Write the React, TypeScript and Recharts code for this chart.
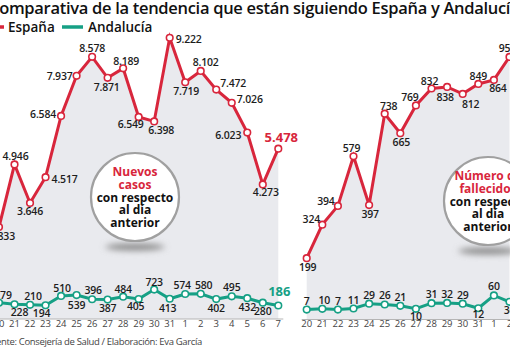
import React from 'react';
import { ComposedChart, Line, Area, XAxis, YAxis, LabelList } from 'recharts';

const days = ['20', '21', '22', '23', '24', '25', '26', '27', '28', '29', '30', '31', '1', '2', '3', '4', '5', '6', '7'];

const spainCases = [2833, 4946, 3646, 4517, 6584, 7937, 8578, 7871, 8189, 6549, 6398, 9222, 7719, 8102, 7472, 7026, 6023, 4273, 5478];
const andaluciaCases = [279, 228, 210, 194, 510, 539, 396, 387, 484, 405, 723, 413, 574, 580, 402, 495, 432, 280, 186];

const spainDeaths = [199, 324, 394, 579, 397, 738, 665, 769, 832, 838, 812, 849, 864, 950, null, null, null, null, null];
const andaluciaDeaths = [7, 10, 7, 11, 29, 26, 21, 10, 31, 32, 29, 12, 60, 36, null, null, null, null, null];

// label offsets (dx, dy) from each point
const spainCasesPos = [[3, 9], [1, -8], [0, 8.5], [19, 2], [-18, -2], [-17, 0], [0, -8.5], [-1, 9], [3, -7.5], [-8, 7], [7, 9], [19, 1.5], [1, 9], [5, -9], [17, -6.5], [18, -3.5], [-19, 2.5], [3, 8], [3, -12]];
const andaluciaCasesPos = [[4, -8], [5, 8], [3, -9], [-4, 8], [1, -8], [0, 10], [1, -9], [0, 8], [0, -8], [-3, 7], [0, -8], [-2, 9], [-3, -9], [3, -9], [0, 8.5], [0, -9.5], [0, 8.5], [0, 8], [1, -14]];
const spainDeathsPos = [[1, 9], [-11, -6], [-12, -5], [-2, -8], [1, 9], [4, -8], [1, 9], [-6, -8], [-2, -8], [-2, 10], [8, 10], [0, -8], [4, 8], [-2, -9]];
const andaluciaDeathsPos = [[0, -9], [2, -9], [0, -9], [0, -9], [0, -9], [0, -9], [0, -9], [0, 7], [0, -9], [0, -9], [0, -9], [0, 6], [0, -9], [0, 8]];

const RED = '#d8263c';
const TEAL = '#16a085';
const FONT = '"Open Sans", sans-serif';

const casesData = days.map((d, i) => ({ day: d, spain: spainCases[i], andalucia: andaluciaCases[i] }));
const deathsData = days.map((d, i) => ({ day: d, spain: spainDeaths[i], andalucia: andaluciaDeaths[i] }));

const fmt = (v: number) => String(v).replace(/\B(?=(\d{3})+(?!\d))/g, '.');

const makeLabel = (pos: number[][], color: string, big: number) => (props: any) => {
    const { x, y, value, index } = props;
    if (value == null || x == null || y == null) return null;
    const [dx, dy] = pos[index] || [0, -9];
    const isBig = index === big;
    return (
        <text
            x={x + dx}
            y={y + dy}
            textAnchor="middle"
            dominantBaseline="central"
            fontFamily={FONT}
            fontSize={isBig ? 13 : 10.5}
            fontWeight={isBig ? 700 : 600}
            letterSpacing={isBig ? 0 : -0.2}
            fill={isBig ? color : '#1d1d1d'}
        >
            {fmt(value)}
        </text>
    );
};

const dotStyle = (color: string) => ({ r: 3.3, fill: '#fff', stroke: color, strokeWidth: 1.6 });

interface PanelProps {
    data: any[];
    domain: [number, number];
    spainPos: number[][];
    andaluciaPos: number[][];
    bigIndex: number;
    width: number;
    margin: { top: number; right: number; bottom: number; left: number };
}

function Panel({ data, domain, spainPos, andaluciaPos, bigIndex, width, margin }: PanelProps) {
    return (
        <ComposedChart width={width} height={348} data={data} margin={margin}>
            <XAxis
                dataKey="day"
                scale="point"
                padding={{ left: 5, right: 5 }}
                interval={0}
                tickLine={false}
                tickSize={0}
                tickMargin={1}
                height={20}
                stroke="#b5b5b5"
                tick={{ fill: '#444', fontSize: 9.5, fontFamily: FONT }}
            />
            <YAxis hide domain={domain} type="number" />
            <Area
                dataKey="spain"
                type="linear"
                stroke="none"
                fill="#e9eaee"
                fillOpacity={1}
                baseValue="dataMin"
                isAnimationActive={false}
                dot={false}
                activeDot={false}
            />
            <Line
                dataKey="andalucia"
                type="linear"
                stroke={TEAL}
                strokeWidth={3}
                dot={dotStyle(TEAL)}
                isAnimationActive={false}
            >
                <LabelList dataKey="andalucia" content={makeLabel(andaluciaPos, TEAL, bigIndex)} />
            </Line>
            <Line
                dataKey="spain"
                type="linear"
                stroke={RED}
                strokeWidth={3}
                dot={dotStyle(RED)}
                isAnimationActive={false}
            >
                <LabelList dataKey="spain" content={makeLabel(spainPos, RED, bigIndex)} />
            </Line>
        </ComposedChart>
    );
}

function Bubble({ cx, cy, red, black }: { cx: number; cy: number; red: string[]; black: string[] }) {
    const lines = [...red, ...black];
    const start = cy - ((lines.length - 1) * 12.6) / 2;
    return (
        <g>
            <ellipse cx={cx} cy={cy + 50} rx={30} ry={3.5} fill="#8a8a8a" filter="url(#blur)" />
            <circle cx={cx} cy={cy} r={44} fill="#fff" stroke="#a0a0a0" strokeWidth={2.2} />
            {lines.map((t, i) => (
                <text
                    key={i}
                    x={cx}
                    y={start + i * 12.6}
                    textAnchor="middle"
                    dominantBaseline="central"
                    fontFamily={FONT}
                    fontSize={12}
                    fontWeight={700}
                    fill={i < red.length ? RED : '#111'}
                >
                    {t}
                </text>
            ))}
        </g>
    );
}

export default function App() {
    return (
        <div style={{ position: 'fixed', left: 0, top: 0, width: 510, height: 348, overflow: 'hidden', background: '#fff', fontFamily: FONT }}>
            <div style={{ position: 'absolute', left: 0, top: 0 }}>
                <div style={{ position: 'absolute', left: -40, top: 0 }}>
                    <Panel
                        data={casesData}
                        domain={[-270, 10000]}
                        spainPos={spainCasesPos}
                        andaluciaPos={andaluciaCasesPos}
                        bigIndex={18}
                        width={340}
                        margin={{ top: 14.7, right: 16.7, bottom: 9, left: 34 }}
                    />
                </div>
                <div style={{ position: 'absolute', left: 290, top: 0 }}>
                    <Panel
                        data={deathsData}
                        domain={[-30, 1000]}
                        spainPos={spainDeathsPos}
                        andaluciaPos={andaluciaDeathsPos}
                        bigIndex={18}
                        width={330}
                        margin={{ top: 43.5, right: 27.5, bottom: 8.5, left: 11.7 }}
                    />
                </div>
            </div>
            <svg width={510} height={348} style={{ position: 'absolute', left: 0, top: 0 }}>
                <defs>
                    <filter id="blur" x="-50%" y="-200%" width="200%" height="500%">
                        <feGaussianBlur stdDeviation="3" />
                    </filter>
                </defs>
                <Bubble cx={135} cy={197} red={['Nuevos', 'casos']} black={['con respecto', 'al día', 'anterior']} />
                <Bubble cx={488} cy={201} red={['Número de', 'fallecidos']} black={['con respecto', 'al día', 'anterior']} />
                <line x1={-10} y1={27} x2={4} y2={27} stroke={RED} strokeWidth={3.5} />
                <line x1={62} y1={27} x2={83} y2={27} stroke={TEAL} strokeWidth={3.5} />
                <text x={8} y={27} dominantBaseline="central" fontFamily={FONT} fontSize={13.5} fontWeight={600} fill="#111">España</text>
                <text x={88} y={27} dominantBaseline="central" fontFamily={FONT} fontSize={13.5} fontWeight={600} fill="#111">Andalucía</text>
                <text x={-11} y={14} fontFamily={FONT} fontSize={16.5} fontWeight={600} letterSpacing={-0.3} fill="#111">
                    Comparativa de la tendencia que están siguiendo España y Andalucía
                </text>
                <text x={-14} y={345} fontFamily={FONT} fontSize={9.5} letterSpacing={-0.35} fill="#444">
                    Fuente: Consejería de Salud / Elaboración: Eva García
                </text>
            </svg>
        </div>
    );
}
